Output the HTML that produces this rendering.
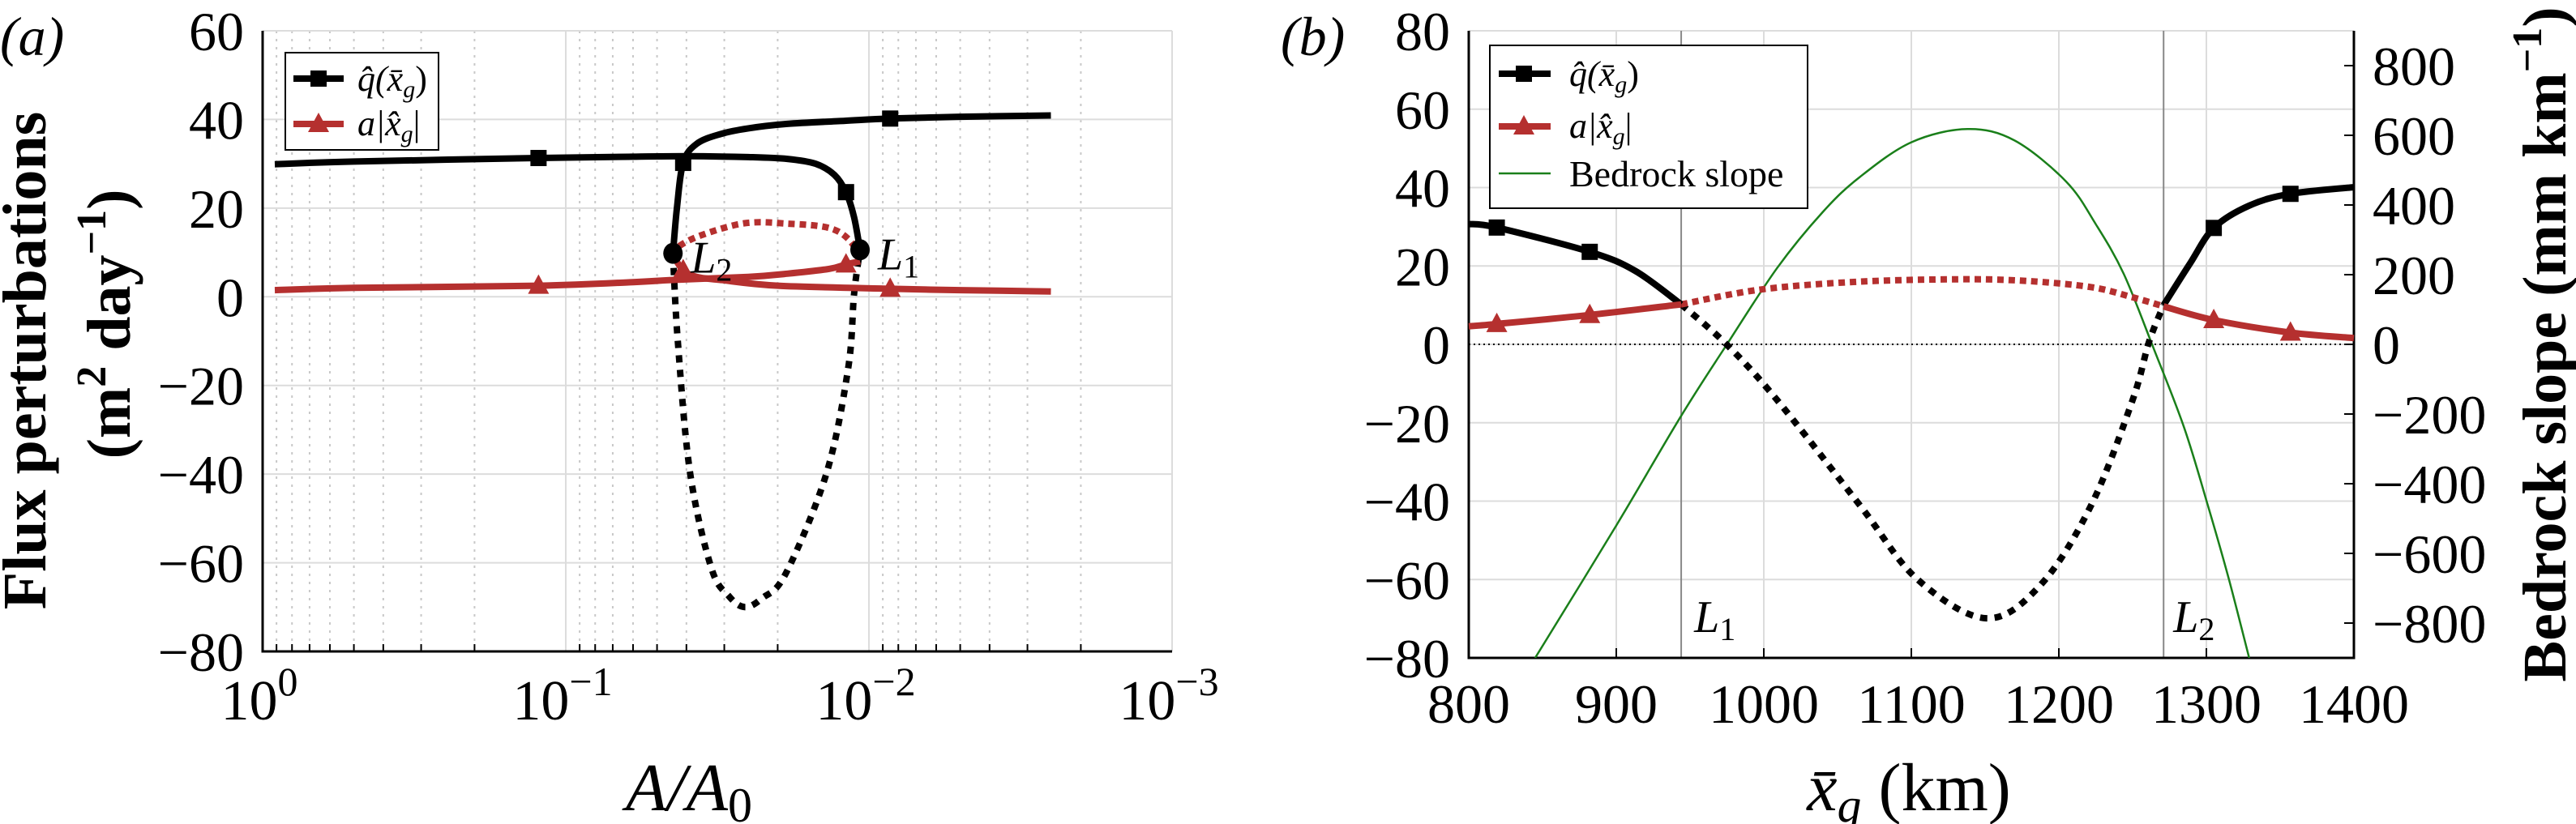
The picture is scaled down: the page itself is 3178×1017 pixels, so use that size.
<!DOCTYPE html>
<html><head><meta charset="utf-8"><style>
html,body{margin:0;padding:0;background:#fff;}
svg{display:block;font-family:"Liberation Serif",serif;}
svg text{font-family:"Liberation Serif",serif;}
</style></head><body>
<svg id="chart" width="3178" height="1017" viewBox="0 0 3178 1017" xmlns="http://www.w3.org/2000/svg" font-family="Liberation Serif, serif">
<g id="pa"></g>
<g id="pb"></g>
</svg>
<script>
// ---------- Panel (a) data ----------
const aYTicks = [60,40,20,0,-20,-40,-60,-80];
const aXDecades = [0,-1,-2,-3];
const aQStable1A = [0.912,0.5,0.123,0.06,0.0398,0.025,0.0186,0.0150,0.0130,0.0119,0.0112,0.0107];
const aQStable1Y = [29.9,30.5,31.3,31.6,31.7,31.5,31.1,30.0,27.5,23.6,18,10.6];
const aQStable2A = [0.0443,0.0430,0.0410,0.037,0.0309,0.025,0.0186,0.0120,0.00851,0.005,0.00251];
const aQStable2Y = [9.8,20,30.2,34.5,36.7,38,39,39.7,40.2,40.6,40.9];
const aQUnstA = [0.0443,0.0427,0.0389,0.0331,0.0290,0.0257,0.0225,0.0188,0.0138,0.0117,0.0112,0.0107];
const aQUnstY = [9.8,-10,-39.8,-61.2,-67.5,-70,-68,-62.4,-39.8,-16,0.5,10.6];
const aRStable1A = [0.912,0.5,0.123,0.06,0.0443,0.025,0.0186,0.0135,0.0119,0.0107];
const aRStable1Y = [1.5,2,2.5,3.3,3.8,4.5,5.2,6.3,7.3,8];
const aRStable2A = [0.0443,0.041,0.037,0.0309,0.02,0.0085,0.005,0.00251];
const aRStable2Y = [9.4,6,4.5,3.8,2.5,1.8,1.5,1.2];
const aRUnstA = [0.0443,0.0427,0.0360,0.0257,0.0186,0.0135,0.0115,0.0107];
const aRUnstY = [9.4,11.2,13.8,16.6,16.5,15.5,12.5,8];
const aQMarkA = [0.123,0.0410,0.0119,0.00851];
const aQMarkY = [31.3,30.2,23.6,40.2];
const aRMarkA = [0.123,0.0410,0.0119,0.00851];
const aRMarkY = [2.5,6,7.3,1.8];
const aFoldA = [0.0443,0.0107];
const aFoldY = [9.8,10.6];
const aFoldLabels = ["2","1"];

// ---------- Panel (b) data ----------
const bXTicks = [800,900,1000,1100,1200,1300,1400];
const bYTicks = [80,60,40,20,0,-20,-40,-60,-80];
const bY2Ticks = [800,600,400,200,0,-200,-400,-600,-800];
const bQLeftX = [800,819,882,913,944];
const bQLeftY = [30.7,29.8,23.6,18.7,10.2];
const bQUnstX = [944,975,1009,1065,1104,1151,1188,1222,1250,1261,1271];
const bQUnstY = [10.2,-0.1,-14.2,-41,-59.9,-69.9,-61.2,-41,-14.2,0.5,10];
const bQRightX = [1271,1289,1305,1329,1357,1400];
const bQRightY = [10,20.7,29.7,35.4,38.4,40.1];
const bRLeftX = [800,819,882,944];
const bRLeftY = [4.6,5.2,7.5,10.2];
const bRUnstX = [944,998,1065,1132,1177,1222,1250,1271];
const bRUnstY = [10.2,14,16,16.6,16.2,14.6,12,9.7];
const bRRightX = [1271,1305,1357,1400];
const bRRightY = [9.7,6.2,3,1.6];
const bQMarkX = [819,882,1305,1357];
const bQMarkY = [29.8,23.6,29.7,38.4];
const bRMarkX = [819,882,1305,1357];
const bRMarkY = [5.2,7.5,6.2,3];
const bSlopeX = [845,900,944,975,1009,1040,1065,1100,1138,1170,1205,1225,1244,1264,1285,1301,1315,1329];
const bSlopeY = [-900,-520,-205,0,219,380,480,580,618,585,467,345,202,-9,-240,-462,-670,-900];
const bFoldX = [944,1271];
const bFoldLabels = ["1","2"];

const NS = "http://www.w3.org/2000/svg";
function mk(parent, tag, attrs, text){
  const e = document.createElementNS(NS, tag);
  for (const k in attrs) e.setAttribute(k, attrs[k]);
  if (tag === "text") e.setAttribute("font-family", "Liberation Serif, serif");
  if (text !== undefined) e.textContent = text;
  parent.appendChild(e);
  return e;
}
function smooth(pts){
  if (pts.length < 2) return "";
  let d = "M" + pts[0][0].toFixed(1) + "," + pts[0][1].toFixed(1);
  for (let i = 0; i < pts.length - 1; i++){
    const p0 = pts[Math.max(0,i-1)], p1 = pts[i], p2 = pts[i+1], p3 = pts[Math.min(pts.length-1,i+2)];
    const c1x = p1[0] + (p2[0]-p0[0])/6, c1y = p1[1] + (p2[1]-p0[1])/6;
    const c2x = p2[0] - (p3[0]-p1[0])/6, c2y = p2[1] - (p3[1]-p1[1])/6;
    d += " C" + c1x.toFixed(1)+","+c1y.toFixed(1)+" "+c2x.toFixed(1)+","+c2y.toFixed(1)+" "+p2[0].toFixed(1)+","+p2[1].toFixed(1);
  }
  return d;
}
function square(g, x, y, c){
  const e = mk(g, "rect", {x:x-10, y:y-10, width:20, height:20, fill:c});
  
  
}
function tri(g, x, y, c){
  const e = mk(g, "polygon", {points:(x)+","+(y-14)+" "+(x-13)+","+(y+10)+" "+(x+13)+","+(y+10), fill:c});
  
  
}
const BLACK = "#000", RED = "#b5302f", GREEN = "#1a7f1a";

// ================= Panel A =================
(function(){
  const g = document.getElementById("pa");
  const L = 324, R = 1446, T = 38, B = 804;
  const X = a => L + (R-L) * (-Math.log10(a)) / 3;
  const Y = v => T + (60 - v) / 140 * (B - T);

  for (let dec = 0; dec < 3; dec++){
    for (let m = 2; m <= 9; m++){
      const a = m * Math.pow(10, -dec-1);
      const x = X(a);
      const l = mk(g, "line", {x1:x, x2:x, y1:T, y2:B, stroke:"#c8c8c8", "stroke-width":2, "stroke-dasharray":"3 7"});
      
      
      const t = mk(g, "line", {x1:x, x2:x, y1:B, y2:B-9, stroke:"#000", "stroke-width":2});
      
      
    }
  }
  aXDecades.forEach(p => {
    const x = X(Math.pow(10,p));
    const l = mk(g, "line", {x1:x, x2:x, y1:T, y2:B, stroke:"#dcdcdc", "stroke-width":2});
    
    
    const t = mk(g, "text", {x:x-4, y:888, "font-size":70, "text-anchor":"middle"});
    
    
    mk(t, "tspan", {}, "10");
    mk(t, "tspan", {dy:-30, "font-size":50}, (p===0?"0":"\u2212"+(-p)));
  });
  aYTicks.forEach(v => {
    const y = Y(v);
    const l = mk(g, "line", {x1:L, x2:R, y1:y, y2:y, stroke:"#dcdcdc", "stroke-width":2});
    
    
    const t = mk(g, "text", {x:301, y:y+24, "font-size":68, "text-anchor":"end"}, v < 0 ? "\u2212"+(-v) : String(v));
    
    
  });
  const ax = mk(g, "path", {d:"M"+L+","+T+" V"+B+" H"+R, fill:"none", stroke:"#000", "stroke-width":3});
  
  

  const series = [
    [aQUnstA, aQUnstY, BLACK, "9 9", "q-unstable-branch"],
    [aRUnstA, aRUnstY, RED, "8 6", "a-unstable-branch"],
    [aQStable1A, aQStable1Y, BLACK, null, "q-stable-branch-1"],
    [aQStable2A, aQStable2Y, BLACK, null, "q-stable-branch-2"],
    [aRStable1A, aRStable1Y, RED, null, "a-stable-branch-1"],
    [aRStable2A, aRStable2Y, RED, null, "a-stable-branch-2"]
  ];
  series.forEach(s => {
    const pts = s[0].map((a,i) => [X(a), Y(s[1][i])]);
    const attrs = {d:smooth(pts), fill:"none", stroke:s[2], "stroke-width":8};
    if (s[3]) attrs["stroke-dasharray"] = s[3];
    const p = mk(g, "path", attrs);
    
    
  });
  aQMarkA.forEach((a,i) => square(g, X(a), Y(aQMarkY[i]), BLACK));
  aRMarkA.forEach((a,i) => tri(g, X(a), Y(aRMarkY[i]), RED));
  aFoldA.forEach((a,i) => {
    const c = mk(g, "ellipse", {cx:X(a), cy:Y(aFoldY[i]), rx:12, ry:13, fill:"#000"});
    
    
    const t = mk(g, "text", {x:X(a)+22, y:Y(aFoldY[i])+24, "font-size":56, "font-style":"italic"});
    
    
    mk(t, "tspan", {}, "L");
    mk(t, "tspan", {dy:10, "font-size":40, "font-style":"normal"}, aFoldLabels[i]);
  });
  const lg = mk(g, "g", {});
  
  
  mk(lg, "rect", {x:352, y:65, width:189, height:120, fill:"#fff", stroke:"#000", "stroke-width":2});
  mk(lg, "line", {x1:362, x2:424, y1:97, y2:97, stroke:BLACK, "stroke-width":8});
  square(lg, 393, 97, BLACK);
  const t1 = mk(lg, "text", {x:441, y:112, "font-size":44, "font-style":"italic"}, "q\u0302(x\u0304");
  mk(t1, "tspan", {dy:8, "font-size":30}, "g");
  mk(t1, "tspan", {dy:-8, "font-style":"normal"}, ")");
  
  
  mk(lg, "line", {x1:362, x2:424, y1:153, y2:153, stroke:RED, "stroke-width":8});
  tri(lg, 393, 153, RED);
  const t2 = mk(lg, "text", {x:441, y:167, "font-size":44, "font-style":"italic"}, "a|x\u0302");
  mk(t2, "tspan", {dy:8, "font-size":30}, "g");
  mk(t2, "tspan", {dy:-8, "font-style":"normal"}, "|");
  
  

  const xt = mk(g, "text", {x:850, y:1000, "font-size":84, "font-style":"italic", "text-anchor":"middle"}, "A/A");
  mk(xt, "tspan", {dy:14, "font-size":60, "font-style":"normal"}, "0");
  
  
  const yt = mk(g, "text", {transform:"translate(56,445) rotate(-90)", "font-size":76, "font-weight":"bold", "text-anchor":"middle"}, "Flux perturbations");
  
  
  const yt2 = mk(g, "text", {transform:"translate(160,400) rotate(-90)", "font-size":76, "font-weight":"bold", "text-anchor":"middle"}, "(m");
  mk(yt2, "tspan", {dy:-30, "font-size":52}, "2");
  mk(yt2, "tspan", {dy:30}, " day");
  mk(yt2, "tspan", {dy:-30, "font-size":52}, "\u22121");
  mk(yt2, "tspan", {dy:30}, ")");
  
  
  const pl = mk(g, "text", {x:0, y:68, "font-size":68, "font-style":"italic"}, "(a)");
  
  
})();

// ================= Panel B =================
(function(){
  const g = document.getElementById("pb");
  const L = 1812, R = 2904, T = 38, B = 812;
  const X = v => L + (v - 800) / 600 * (R - L);
  const Y = v => T + (80 - v) / 160 * (B - T);
  const Y2 = v => T + (900 - v) / 1800 * (B - T);

  bXTicks.forEach(v => {
    const x = X(v);
    const l = mk(g, "line", {x1:x, x2:x, y1:T, y2:B, stroke:"#dcdcdc", "stroke-width":2});
    
    
    const tk = mk(g, "line", {x1:x, x2:x, y1:B, y2:B-12, stroke:"#000", "stroke-width":2});
    
    
    const t = mk(g, "text", {x:x, y:892, "font-size":68, "text-anchor":"middle"}, String(v));
    
    
  });
  bYTicks.forEach(v => {
    const y = Y(v);
    const l = mk(g, "line", {x1:L, x2:R, y1:y, y2:y, stroke:"#dcdcdc", "stroke-width":2});
    
    
    const t = mk(g, "text", {x:1789, y:y+24, "font-size":68, "text-anchor":"end"}, v < 0 ? "\u2212"+(-v) : String(v));
    
    
  });
  bY2Ticks.forEach(v => {
    const y = Y2(v);
    const tk = mk(g, "line", {x1:R, x2:R-12, y1:y, y2:y, stroke:"#000", "stroke-width":2});
    
    
    const t = mk(g, "text", {x:2927, y:y+24, "font-size":68, "text-anchor":"start"}, v < 0 ? "\u2212"+(-v) : String(v));
    
    
  });
  const z = mk(g, "line", {x1:L, x2:R, y1:Y(0), y2:Y(0), stroke:"#000", "stroke-width":2, "stroke-dasharray":"2 4"});
  
  
  bFoldX.forEach((v,i) => {
    const l = mk(g, "line", {x1:X(v), x2:X(v), y1:T, y2:B, stroke:"#888", "stroke-width":2});
    
    
    const t = mk(g, "text", {x:X(v)+(i===0?16:12), y:780, "font-size":56, "font-style":"italic"});
    
    
    mk(t, "tspan", {}, "L");
    mk(t, "tspan", {dy:10, "font-size":40, "font-style":"normal"}, bFoldLabels[i]);
  });
  const ax = mk(g, "path", {d:"M"+L+","+T+" V"+B+" H"+R+" V"+T, fill:"none", stroke:"#000", "stroke-width":3});
  
  

  const cp = mk(g, "clipPath", {id:"clipb"});
  mk(cp, "rect", {x:L, y:T, width:R-L, height:B-T});
  const slope = mk(g, "path", {d:smooth(bSlopeX.map((v,i)=>[X(v),Y2(bSlopeY[i])])), fill:"none", stroke:GREEN, "stroke-width":2.5, "clip-path":"url(#clipb)"});
  
  

  const series = [
    [bQUnstX, bQUnstY, BLACK, "9 9", "q-unstable-branch"],
    [bRUnstX, bRUnstY, RED, "8 6", "a-unstable-branch"],
    [bQLeftX, bQLeftY, BLACK, null, "q-stable-left"],
    [bQRightX, bQRightY, BLACK, null, "q-stable-right"],
    [bRLeftX, bRLeftY, RED, null, "a-stable-left"],
    [bRRightX, bRRightY, RED, null, "a-stable-right"]
  ];
  series.forEach(s => {
    const pts = s[0].map((v,i) => [X(v), Y(s[1][i])]);
    const attrs = {d:smooth(pts), fill:"none", stroke:s[2], "stroke-width":8};
    if (s[3]) attrs["stroke-dasharray"] = s[3];
    const p = mk(g, "path", attrs);
    
    
  });
  bQMarkX.forEach((v,i) => square(g, X(v), Y(bQMarkY[i]), BLACK));
  bRMarkX.forEach((v,i) => tri(g, X(v), Y(bRMarkY[i]), RED));

  const lg = mk(g, "g", {});
  
  
  mk(lg, "rect", {x:1838, y:56, width:392, height:201, fill:"#fff", stroke:"#000", "stroke-width":2});
  mk(lg, "line", {x1:1849, x2:1913, y1:91, y2:91, stroke:BLACK, "stroke-width":8});
  square(lg, 1880, 91, BLACK);
  const t1 = mk(lg, "text", {x:1936, y:106, "font-size":44, "font-style":"italic"}, "q\u0302(x\u0304");
  mk(t1, "tspan", {dy:8, "font-size":30}, "g");
  mk(t1, "tspan", {dy:-8, "font-style":"normal"}, ")");
  
  
  mk(lg, "line", {x1:1849, x2:1913, y1:156, y2:156, stroke:RED, "stroke-width":8});
  tri(lg, 1880, 156, RED);
  const t2 = mk(lg, "text", {x:1936, y:170, "font-size":44, "font-style":"italic"}, "a|x\u0302");
  mk(t2, "tspan", {dy:8, "font-size":30}, "g");
  mk(t2, "tspan", {dy:-8, "font-style":"normal"}, "|");
  
  
  mk(lg, "line", {x1:1849, x2:1913, y1:214, y2:214, stroke:GREEN, "stroke-width":2.5});
  const t3 = mk(lg, "text", {x:1936, y:230, "font-size":46}, "Bedrock slope");
  
  

  const xt = mk(g, "text", {x:2355, y:1000, "font-size":84, "text-anchor":"middle"});
  mk(xt, "tspan", {"font-style":"italic"}, "x\u0304");
  mk(xt, "tspan", {dy:14, "font-size":60, "font-style":"italic"}, "g");
  mk(xt, "tspan", {dy:-14}, " (km)");
  
  
  const yt = mk(g, "text", {transform:"translate(3165,425) rotate(-90)", "font-size":76, "font-weight":"bold", "text-anchor":"middle"}, "Bedrock slope (mm km");
  mk(yt, "tspan", {dy:-30, "font-size":52}, "\u22121");
  mk(yt, "tspan", {dy:30}, ")");
  
  
  const pl = mk(g, "text", {x:1580, y:68, "font-size":68, "font-style":"italic"}, "(b)");
  
  
})();
</script>
</body></html>
